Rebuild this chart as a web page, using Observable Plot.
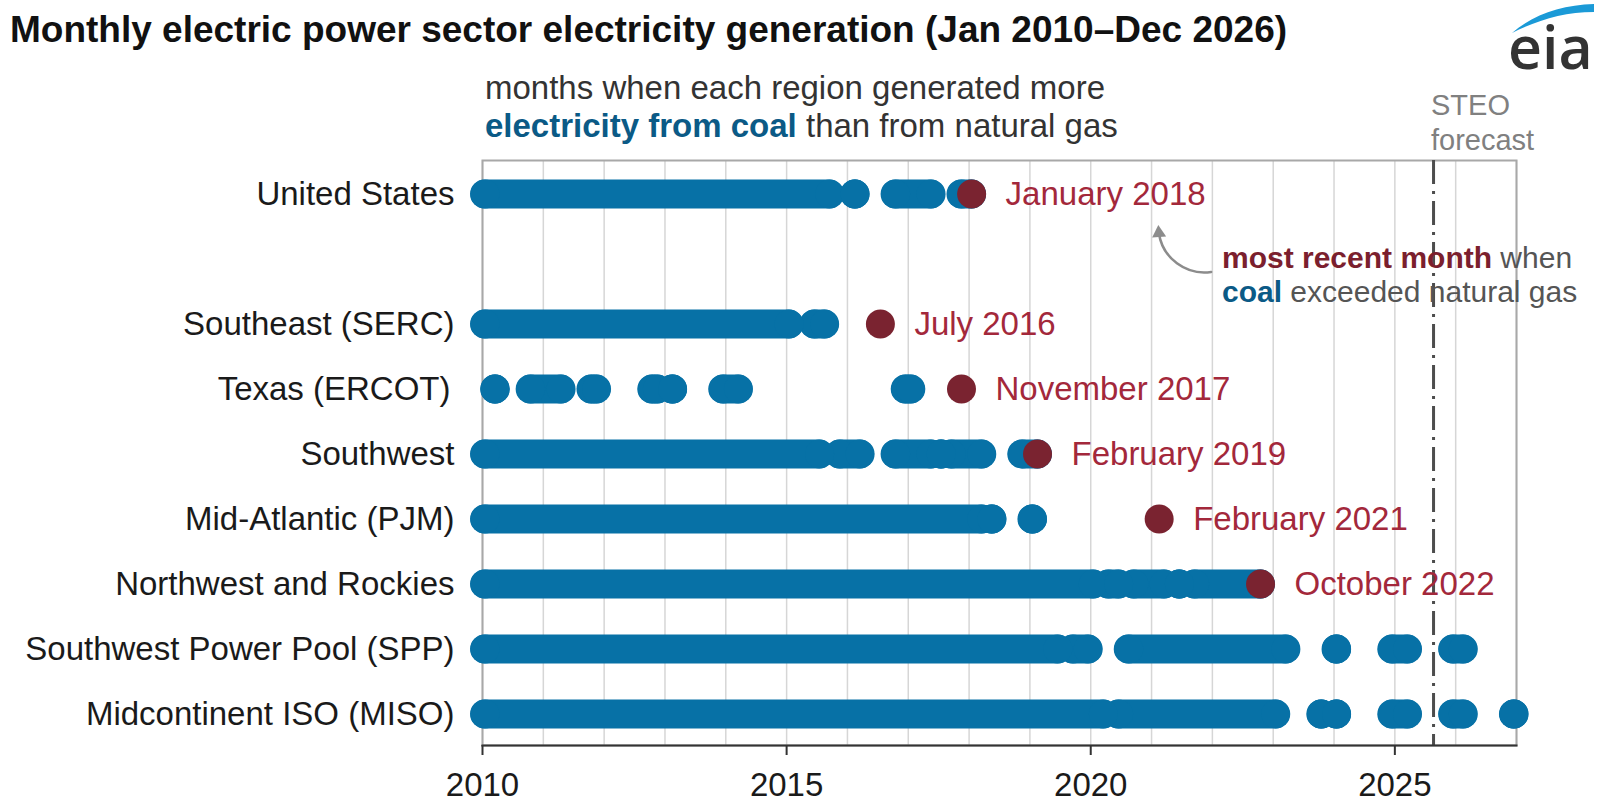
<!DOCTYPE html>
<html><head><meta charset="utf-8">
<script src="https://cdn.jsdelivr.net/npm/d3@7"></script>
<script src="https://cdn.jsdelivr.net/npm/@observablehq/plot@0.6"></script>
<style>
html,body{margin:0;padding:0;background:#fff;}
#wrap{position:relative;width:1600px;height:809px;overflow:hidden;}
#wrap > svg{position:absolute;left:0;top:0;}
</style></head><body><div id="wrap"></div>
<script>
// ---------- data ----------
const regions = ["United States", "", "Southeast (SERC)", "Texas (ERCOT)", "Southwest",
  "Mid-Atlantic (PJM)", "Northwest and Rockies", "Southwest Power Pool (SPP)", "Midcontinent ISO (MISO)"];

// runs of consecutive months when coal generation exceeded natural gas [first month, last month]
const usCoal   = [["2010-01","2015-09"],["2016-02","2016-02"],["2016-10","2017-05"],["2017-11","2018-01"]];
const sercCoal = [["2010-01","2015-01"],["2015-06","2015-08"]];
const ercotCoal= [["2010-03","2010-03"],["2010-10","2011-04"],["2011-10","2011-11"],["2012-10","2012-11"],
                  ["2013-02","2013-02"],["2013-12","2014-03"],["2016-12","2017-01"]];
const swCoal   = [["2010-01","2015-07"],["2015-11","2016-03"],["2016-10","2017-05"],["2017-07","2017-07"],
                  ["2017-09","2018-03"],["2018-11","2019-02"]];
const pjmCoal  = [["2010-01","2018-03"],["2018-05","2018-05"],["2019-01","2019-01"]];
const nwCoal   = [["2010-01","2020-01"],["2020-04","2020-06"],["2020-09","2021-03"],["2021-06","2021-06"],
                  ["2021-09","2022-10"]];
const sppCoal  = [["2010-01","2019-06"],["2019-09","2019-12"],["2020-08","2023-03"],["2024-01","2024-01"],
                  ["2024-12","2025-03"],["2025-12","2026-02"]];
const misoCoal = [["2010-01","2020-03"],["2020-06","2023-01"],["2023-10","2023-10"],["2024-01","2024-01"],
                  ["2024-12","2025-03"],["2025-12","2026-02"],["2026-12","2026-12"]];
const coalRunsByRegion = [usCoal, null, sercCoal, ercotCoal, swCoal, pjmCoal, nwCoal, sppCoal, misoCoal];

// most recent month when coal exceeded natural gas
const latestRegions = ["United States","Southeast (SERC)","Texas (ERCOT)","Southwest",
  "Mid-Atlantic (PJM)","Northwest and Rockies"];
const latestMonths  = ["2018-01","2016-07","2017-11","2019-02","2021-02","2022-10"];

const tickYears = [2010, 2015, 2020, 2025];
const gridYears = d3.range(2010, 2028);
const forecastStart = "2025-08-20";

// ---------- helpers ----------
const midMonth = s => { const [y, m] = s.split("-").map(Number); return y + (m - 0.5) / 12; };
const dayYear = s => { const [y, m, d] = s.split("-").map(Number); return y + (m - 1 + (d - 1) / 30) / 12; };
const monthLabel = s => { const [y, m] = s.split("-").map(Number); return d3.utcFormat("%B %Y")(new Date(Date.UTC(y, m - 1, 1))); };

const runs = [];
coalRunsByRegion.forEach((list, i) => { if (list) list.forEach(([a, b]) => runs.push({region: regions[i], row: i, start: midMonth(a), end: midMonth(b)})); });
const latest = latestRegions.map((r, i) => ({region: r, row: regions.indexOf(r), t: midMonth(latestMonths[i]), label: monthLabel(latestMonths[i])}));
const labelRows = regions.map((name, row) => ({name, row})).filter(d => d.name);

// annotation arrow (from the note toward the January 2018 label)
const noteArrow = [{x1: 2021.98, y1: 1.20, x2: 2021.12, y2: 0.60}];

const coalBlue = "#0771a6";
const font = "'Liberation Sans', Arial, Helvetica, sans-serif";

const chart = Plot.plot({
  width: 1600, height: 809,
  marginLeft: 482, marginRight: 84, marginTop: 160, marginBottom: 64,
  x: {domain: [2010, 2027], axis: null},
  y: {domain: [-0.515, 8.485], reverse: true, axis: null},
  style: {fontFamily: font, background: "transparent", overflow: "visible"},
  marks: [
    Plot.ruleX(gridYears, {stroke: "#d6d6d6", strokeWidth: 1.5}),
    Plot.frame({stroke: "#a8a8a8", strokeWidth: 2}),
    Plot.ruleX([dayYear(forecastStart)], {stroke: "#4d4d4d", strokeWidth: 3, strokeDasharray: "24,7,3,7"}),
    Plot.ruleY(runs, {y: "row", x1: "start", x2: "end", stroke: coalBlue, strokeWidth: 29, strokeLinecap: "round"}),
    Plot.dot(runs, {x: "start", y: "row", r: 14.5, fill: coalBlue}),
    Plot.dot(runs, {x: "end", y: "row", r: 14.5, fill: coalBlue}),
    Plot.dot(latest, {x: "t", y: "row", r: 14.5, fill: "#7a2330"}),
    Plot.text(latest, {x: "t", y: "row", text: "label", dx: 34, textAnchor: "start", fill: "#a3283b", fontSize: 33}),
    Plot.text(labelRows.filter(d => d.name !== "Texas (ERCOT)"), {frameAnchor: "left", y: "row", text: "name", textAnchor: "end", dx: -28, fill: "#1a1a1a", fontSize: 33}),
    Plot.text(labelRows.filter(d => d.name === "Texas (ERCOT)"), {frameAnchor: "left", y: "row", text: "name", textAnchor: "end", dx: -32, fill: "#1a1a1a", fontSize: 33}),
    Plot.arrow(noteArrow, {x1: "x1", y1: "y1", x2: "x2", y2: "y2", bend: 45, stroke: "#8c8c8c", strokeWidth: 2.5, headLength: 0}),
    Plot.dot(noteArrow, {x: "x2", y: "y2", symbol: "triangle", r: 5.2, fill: "#8c8c8c", rotate: -4}),
    Plot.axisX(tickYears, {tickSize: 10, tickPadding: 17, fontSize: 33, tickFormat: d => String(d), stroke: "#333", strokeWidth: 2, fill: "#1a1a1a"}),
    Plot.frame({anchor: "bottom", stroke: "#333", strokeWidth: 2})
  ]
});
const wrap = document.getElementById("wrap");
wrap.appendChild(chart);

// ---------- titles and annotations ----------
const ns = "http://www.w3.org/2000/svg";
const over = document.createElementNS(ns, "svg");
over.setAttribute("width", 1600); over.setAttribute("height", 809);
over.setAttribute("style", "font-family:" + font + ";white-space:pre;pointer-events:none");
over.innerHTML = `
<text x="10" y="42" font-size="37" font-weight="bold" fill="#111">Monthly electric power sector electricity generation (Jan 2010–Dec 2026)</text>
<text x="485" y="99" font-size="33" fill="#333">months when each region generated more</text>
<text x="485" y="137" font-size="33" fill="#333"><tspan font-weight="bold" fill="#0b5a86">electricity from coal</tspan> than from natural gas</text>
<text x="1431" y="115" font-size="29" fill="#808080">STEO</text>
<text x="1431" y="150" font-size="29" fill="#808080">forecast</text>
<text x="1222" y="268" font-size="30" fill="#555"><tspan font-weight="bold" fill="#7b1f2e">most recent month</tspan> when</text>
<text x="1222" y="302" font-size="30" fill="#555"><tspan font-weight="bold" fill="#0b5a86">coal</tspan> exceeded natural gas</text>
<path d="M1512,33 C1534,14 1562,5 1594,4 L1594,12 C1564,12 1538,20 1512,33 Z" fill="#1b9ad7"/>
<text x="1508" y="69" font-size="59" font-weight="600" fill="#333" style="font-family:'Open Sans',Lato,sans-serif">eia</text>
`;
wrap.appendChild(over);
</script>
</body></html>
